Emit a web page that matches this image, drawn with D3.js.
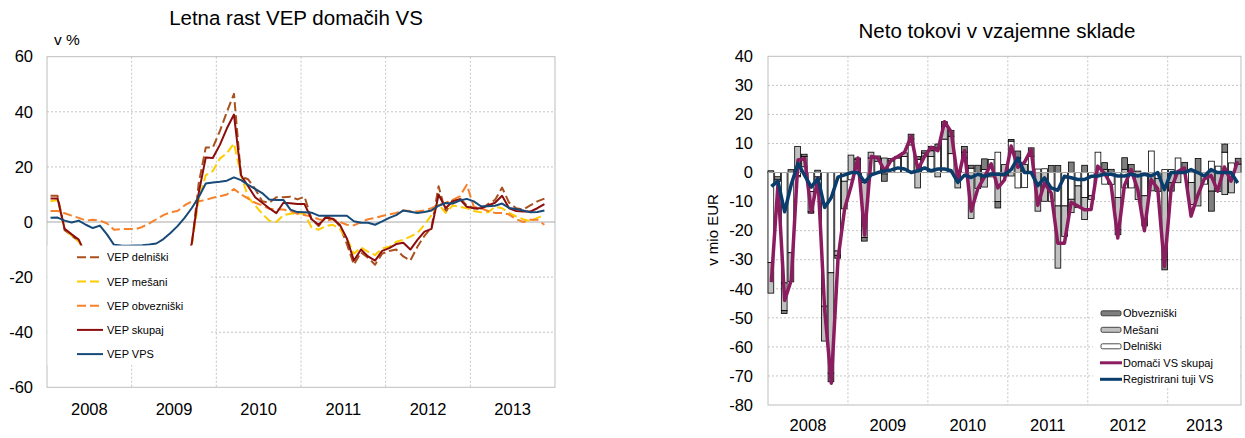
<!DOCTYPE html>
<html>
<head>
<meta charset="utf-8">
<script src="https://cdn.jsdelivr.net/npm/d3@7"></script>
<style>
body { margin: 0; background: #fff; }
svg { font-family: "Liberation Sans", Arial, sans-serif; }
</style>
</head>
<body>
<script>
// ---- data: categories ----
var years = ["2008", "2009", "2010", "2011", "2012", "2013"];
var monthsAll = [];
years.forEach(function (y) {
    for (var m = 1; m <= 12; m++) monthsAll.push(y + "-" + m);
});
// series run Jan 2008 - Nov 2013
var months = monthsAll.slice(0, 71);

// ---- left chart: annual growth of net asset value (v %) ----
var leftTicks = [60, 40, 20, 0, -20, -40, -60];
var vepDelniski = [9.5, 9.5, -3, -5, -7, -13, -22, -30, -38, -45,
    -50, -51, -51, -50, -48, -45, -40, -33, -25, -17,
    -9, 14, 27, 27, 33, 40, 46.5, 16.5, 15.5, 12,
    7.5, 7, 9, 9, 9.2, 8.2, 9.2, 1, -1.5, 2,
    1.5, -1.5, -8, -15.5, -11, -13, -15.5, -11.5, -10.5, -10,
    -12.5, -14, -9, -5, -2, 13, 3.5, 8, 8.7, 6,
    5, 4.5, 6.5, 8, 12.5, 7, 5, 4.5, 6, 7.5, 8.5];
var vepMesani = [7.5, 8, -2.5, -5, -7, -12, -18, -24, -30, -35,
    -38, -40, -40, -38, -36, -32, -28, -22, -16, -12,
    -8.5, 8, 17, 18.5, 23, 25, 28.5, 17, 9, 6,
    3, 0.5, 0, 2.5, 3, 3.2, 3, -2, -2.8, -1.5,
    -1, -2.5, -6, -11.5, -9.2, -10.8, -12, -9.6, -9, -7.2,
    -6.5, -5.3, -4, -1, 2.5, 6.5, 3.3, 6, 5.5, 5,
    4, 3.5, 3.5, 5.5, 5, 3.3, 2, 1, 0.2, 1.5, 2.4];
var vepObvezniski = [4, 4, 3.2, 2.3, 1.5, 0.5, 0.8, 0.5, -0.5, -2.8,
    -2.6, -2.5, -2.6, -1.8, -0.5, 1, 2.5, 3.5, 4, 6,
    7.5, 7.5, 8, 8.8, 9.3, 10, 12, 10, 8.5, 7,
    6, 4.8, 4.5, 4.5, 4, 3, 2.5, 2, 1, 0.5,
    1, 0, -1, -1.2, 0, 1, 1.5, 2.2, 2.8, 3.3,
    4.2, 4, 3.8, 4.2, 5, 6.2, 7, 8, 9.3, 13.5,
    5.5, 5, 4, 3.3, 3.3, 2.7, 1, 0, 0.8, 0.8, -1];
var vepSkupaj = [8.5, 8.5, -2.5, -4.5, -6.4, -12, -20, -28, -35, -42,
    -45, -47, -46, -45, -42, -38, -33, -27, -20, -14,
    -8, 10.5, 23.4, 23.2, 28, 34, 39, 17, 13, 9,
    7, 5, 3.2, 7, 6.8, 6.5, 6.5, 1, -1, 1.5,
    1.2, -1, -6, -14, -10, -12.5, -14, -10.5, -9.5, -8,
    -7.5, -10, -6.5, -3.5, -2.5, 10, 5, 7.5, 8.3, 5.5,
    5, 5, 6, 7, 9.5, 5, 4, 3.8, 3.8, 5, 6.5];
var vepVPS = [1.5, 1.6, 0.5, -0.2, 0.5, -1, -2.2, -1.3, -4.5, -8.3,
    -8.5, -8.6, -8.5, -8.4, -8.2, -7.8, -6.2, -4, -1.5, 1.5,
    5, 9, 14, 14.3, 14.6, 15, 16.2, 15.2, 13.5, 12,
    10.5, 8.2, 8, 8, 4.5, 3.6, 3.5, 3.4, 2.3, 2.3,
    2.3, 2.3, 2.3, 0.3, -0.3, -0.3, -1, 0.2, 1.5, 2.5,
    4.2, 3.7, 3.3, 3.6, 4.2, 5.9, 6.9, 6.7, 7.8, 8.4,
    7.5, 5.7, 5.7, 5.9, 6.7, 5.1, 4.7, 4.2, 3.5, 3.6, 4.2];

// ---- right chart: net flows (v mio EUR) ----
var rightTicks = [40, 30, 20, 10, 0, -10, -20, -30, -40, -50, -60, -70, -80];
var flowObv = [0.6, -0.8, -1, 1, -0.5, 0.8, -0.5, 0.8, 0, -3,
    -1, 0, 0, 0.5, -1.2, 0, 0.8, -2.5, 0, 0.6,
    0, 1.7, 1, 0.8, 1.5, 1.3, 1.7, 2, 0, 2,
    1, 2.5, 3.7, 0, -2.2, 0, 0.6, 2.4, 0, 2.9,
    0, 0, 2.4, 2.4, 0, 3.6, 0, 2.5, 0, 0,
    2.3, 1.1, -1.8, 4, 2.8, 0.5, 0, 0, 0, -3.5,
    -2.9, 0, 3, 0, 4.8, 0, -6.9, 0, 2.8, 0, 2];
var flowMes = [-10.5, -0.8, -9.5, -10, 9, 3.5, -7, -1, -12, -34.5,
    -1.5, -9.5, 6, 3, -19, 2, 1, 5, 0.8, 0,
    1.3, 2, -5.3, 1, 2, -1.5, 4.3, 6, -4.3, 2,
    -15.8, -4.5, -5, -1.5, -10, 2.8, -1.2, 5, 2.8, 0,
    -13.3, -9.9, 0, -21.4, -10.5, -4.6, -7.5, -7.6, -1.3, -1,
    1.1, 0, -11, 1.1, 0, -9.3, -10.4, -6.3, -4.5, -30,
    -3.5, -3.5, 0.5, -7.6, -11.5, 0, -6.4, -6.5, -7.6, -7, 2.9];
var flowDel = [-31, -1.5, -38, -27.6, -1, 2, -6.5, -1.5, -46, -34.5,
    -27, -3, -2.5, 1.5, -3.4, 5, 3.9, -0.5, 4, 5,
    5.5, 9.5, 4.5, 5.7, 5.5, 8.5, 11.5, 6.5, -1, 5,
    1.5, -1, 1, 4.5, 7, -1.2, 10.8, -5.3, -5.2, 5.6,
    1.2, 1.3, -9.9, -11.5, -11.5, -9.2, -4.6, -8.6, -8, 7,
    -4, -4.1, -8.6, -5.3, -5.3, 0, -8, 7.4, -2, 1,
    1, 5, 0, -3.4, 0, -4, 3.9, 2.2, 7, 3.3, 0];
var flowDomaci = [-37.7, -3.8, -44, -37, 4.3, 4.8, -13.6, -2, -47, -72.5,
    -30, -12.5, -4.5, 5, -21.5, 5.5, 5, 0.5, 4.3, 5.5,
    7, 12.5, 1, 5.5, 8.7, 7.5, 17.5, 14, -2.5, 7.5,
    -13.3, -5.5, -1.5, 3, -5.3, -2.5, 9.1, 1.8, 3.5, 7.9,
    -11.3, -3.6, -7, -24.3, -24.3, -10.2, -11.5, -12.8, -12.7, 2.2,
    -0.2, -4.2, -22.5, -4.5, 1, -5.8, -20, -2.4, -5.6, -32.3,
    -5.8, 0.3, 1.5, -15, -7.9, -2.2, -1, -6.4, 1.9, -3, 3.9];
var flowTuji = [-4.8, -3, -13.5, -4, 3.2, -1, -5, -2, -12, -8.6,
    -1.6, -0.8, 0, 0, -3.3, -0.8, 0, 0.5, 0.9, 1.6,
    1.2, 0, 0.6, 1.6, 0.6, 1.2, 1.2, 0.6, -3.4, -0.9,
    -1.7, -0.6, -1.3, -0.5, -0.6, -0.7, 1, 5, 0, 0,
    -4.5, -1.8, -5.3, -6.1, -1.3, -1.8, -2.4, -2.4, -1.3, -1.2,
    -0.6, -0.6, -1.2, -1.2, -0.6, -1.2, -0.6, -1.2, 0, -5.9,
    0, 0, 0, 1, 0, -1.2, 1, 0, 0, 0, -3.6];

var svg = d3.select("body")
    .append("svg")
    .attr("width", 1245)
    .attr("height", 438);

var gridColor = "#c4c4c4";

/* ================= left chart ================= */
var L = {left: 47, right: 555, top: 56.7, bottom: 387.3};
var xL = d3.scaleBand().domain(monthsAll).range([L.left, L.right]);
var yL = d3.scaleLinear().domain([-60, 60]).range([L.bottom, L.top]);

svg.append("text")
    .attr("x", 296).attr("y", 25)
    .attr("text-anchor", "middle")
    .style("font-size", "20.5px")
    .text("Letna rast VEP domačih VS");

svg.append("text")
    .attr("x", 54).attr("y", 45)
    .style("font-size", "15.5px")
    .text("v %");

var gL = svg.append("g");

gL.selectAll(".hgrid")
    .data([40, 20, -20, -40])
    .enter()
    .append("line")
    .attr("x1", L.left).attr("x2", L.right)
    .attr("y1", function (d) { return yL(d); })
    .attr("y2", function (d) { return yL(d); })
    .attr("stroke", gridColor)
    .attr("stroke-dasharray", "2,2");

gL.selectAll(".vgrid")
    .data(years.slice(1))
    .enter()
    .append("line")
    .attr("x1", function (d) { return xL(d + "-1"); })
    .attr("x2", function (d) { return xL(d + "-1"); })
    .attr("y1", L.top).attr("y2", L.bottom)
    .attr("stroke", gridColor)
    .attr("stroke-dasharray", "2,2");

gL.append("rect")
    .attr("x", L.left).attr("y", L.top)
    .attr("width", L.right - L.left).attr("height", L.bottom - L.top)
    .attr("fill", "none")
    .attr("stroke", "#bdbdbd");

gL.append("line")
    .attr("x1", L.left).attr("x2", L.right)
    .attr("y1", yL(0)).attr("y2", yL(0))
    .attr("stroke", "#a8a8a8");

// y tick labels
gL.append("g")
    .attr("transform", "translate(33,0)")
    .call(d3.axisLeft(yL).tickValues(leftTicks).tickSize(0).tickPadding(0)
        .tickFormat(function (d) { return String(d); }))
    .call(function (g) { g.select(".domain").remove(); })
    .selectAll("text")
    .attr("fill", "#000")
    .style("font-size", "16.5px")
    .style("font-family", "'Liberation Sans', Arial, sans-serif");

// year labels
gL.selectAll(".year")
    .data(years)
    .enter()
    .append("text")
    .attr("x", function (d) { return xL(d + "-1") + xL.bandwidth() * 6; })
    .attr("y", 415)
    .attr("text-anchor", "middle")
    .style("font-size", "16.5px")
    .text(function (d) { return d; });

var leftSeries = [
    {name: "VEP delniški", values: vepDelniski, color: "#a9501f", dash: "9,4"},
    {name: "VEP mešani", values: vepMesani, color: "#ffcc00", dash: "9,4"},
    {name: "VEP obvezniški", values: vepObvezniski, color: "#f7812b", dash: "9,4"},
    {name: "VEP skupaj", values: vepSkupaj, color: "#8b0d0d", dash: null},
    {name: "VEP VPS", values: vepVPS, color: "#174a79", dash: null}
];

var lineL = d3.line()
    .x(function (d, i) { return xL(monthsAll[i]) + xL.bandwidth() / 2; })
    .y(function (d) { return yL(d); });

gL.selectAll(".series")
    .data(leftSeries)
    .enter()
    .append("path")
    .attr("d", function (d) { return lineL(d.values); })
    .attr("fill", "none")
    .attr("stroke", function (d) { return d.color; })
    .attr("stroke-width", 2)
    .attr("stroke-linejoin", "round")
    .attr("stroke-dasharray", function (d) { return d.dash; });

// legend sits on a white box over the plot
gL.append("rect")
    .attr("x", L.left + 0.5).attr("y", 245.5)
    .attr("width", 162).attr("height", 119.5)
    .attr("fill", "#fff");

var legL = gL.selectAll(".legL")
    .data(leftSeries)
    .enter()
    .append("g")
    .attr("transform", function (d, i) { return "translate(0," + (257.3 + i * 24.2) + ")"; });

legL.append("line")
    .attr("x1", 77).attr("x2", 103)
    .attr("stroke", function (d) { return d.color; })
    .attr("stroke-width", 2)
    .attr("stroke-dasharray", function (d) { return d.dash; });

legL.append("text")
    .attr("x", 107).attr("y", 4)
    .style("font-size", "11px")
    .text(function (d) { return d.name; });

/* ================= right chart ================= */
var R = {left: 768, right: 1241, top: 56.3, bottom: 405};
var xR = d3.scaleBand().domain(months).range([R.left, R.right]).paddingInner(0.14);
var yR = d3.scaleLinear().domain([-80, 40]).range([R.bottom, R.top]);
var step = (R.right - R.left) / months.length;

svg.append("text")
    .attr("x", 997).attr("y", 38)
    .attr("text-anchor", "middle")
    .style("font-size", "20.5px")
    .text("Neto tokovi v vzajemne sklade");

svg.append("text")
    .attr("transform", "translate(718,230) rotate(-90)")
    .attr("text-anchor", "middle")
    .style("font-size", "15px")
    .text("v mio EUR");

var gR = svg.append("g");

gR.selectAll(".hgrid")
    .data(rightTicks.filter(function (d) { return d !== 0 && d !== 40 && d !== -80; }))
    .enter()
    .append("line")
    .attr("x1", R.left).attr("x2", R.right)
    .attr("y1", function (d) { return yR(d); })
    .attr("y2", function (d) { return yR(d); })
    .attr("stroke", gridColor)
    .attr("stroke-dasharray", "2,2");

gR.selectAll(".vgrid")
    .data(years.slice(1))
    .enter()
    .append("line")
    .attr("x1", function (d) { return R.left + months.indexOf(d + "-1") * step; })
    .attr("x2", function (d) { return R.left + months.indexOf(d + "-1") * step; })
    .attr("y1", R.top).attr("y2", R.bottom)
    .attr("stroke", gridColor)
    .attr("stroke-dasharray", "2,2");

gR.append("rect")
    .attr("x", R.left).attr("y", R.top)
    .attr("width", R.right - R.left).attr("height", R.bottom - R.top)
    .attr("fill", "none")
    .attr("stroke", "#bdbdbd");

gR.append("g")
    .attr("transform", "translate(753,0)")
    .call(d3.axisLeft(yR).tickValues(rightTicks).tickSize(0).tickPadding(0)
        .tickFormat(function (d) { return String(d); }))
    .call(function (g) { g.select(".domain").remove(); })
    .selectAll("text")
    .attr("fill", "#000")
    .style("font-size", "16.5px")
    .style("font-family", "'Liberation Sans', Arial, sans-serif");

gR.selectAll(".year")
    .data(years)
    .enter()
    .append("text")
    .attr("x", function (d) {
        var ms = months.filter(function (m) { return m.indexOf(d) === 0; });
        return R.left + (months.indexOf(ms[0]) + ms.length / 2) * step;
    })
    .attr("y", 431)
    .attr("text-anchor", "middle")
    .style("font-size", "16.5px")
    .text(function (d) { return d; });

// stacked columns: Delniški next to the axis, then Mešani, then Obvezniški
var flowRows = months.map(function (m, i) {
    return {month: m, del: flowDel[i], mes: flowMes[i], obv: flowObv[i]};
});
var fills = {obv: "#7f7f7f", mes: "#c0c0c0", del: "#ffffff"};
var stacked = d3.stack()
    .keys(["del", "mes", "obv"])
    .offset(d3.stackOffsetDiverging)(flowRows);

gR.selectAll(".layer")
    .data(stacked)
    .enter()
    .append("g")
    .attr("fill", function (d) { return fills[d.key]; })
    .selectAll("rect")
    .data(function (d) { return d.filter(function (s) { return s[0] !== s[1]; }); })
    .enter()
    .append("rect")
    .attr("x", function (d) { return xR(d.data.month); })
    .attr("width", xR.bandwidth())
    .attr("y", function (d) { return yR(Math.max(d[0], d[1])); })
    .attr("height", function (d) { return Math.abs(yR(d[0]) - yR(d[1])); })
    .attr("stroke", "#000")
    .attr("stroke-width", 0.8);

gR.append("line")
    .attr("x1", R.left).attr("x2", R.right)
    .attr("y1", yR(0)).attr("y2", yR(0))
    .attr("stroke", "#a8a8a8");

var lineR = d3.line()
    .x(function (d, i) { return R.left + (i + 0.5) * step; })
    .y(function (d) { return yR(d); });

var rightLines = [
    {name: "Domači VS skupaj", values: flowDomaci, color: "#8c1c60"},
    {name: "Registrirani tuji VS", values: flowTuji, color: "#0a3d6b"}
];

gR.selectAll(".flowLine")
    .data(rightLines)
    .enter()
    .append("path")
    .attr("d", function (d) { return lineR(d.values); })
    .attr("fill", "none")
    .attr("stroke", function (d) { return d.color; })
    .attr("stroke-width", 3.5)
    .attr("stroke-linejoin", "round");

// legend box
gR.append("rect")
    .attr("x", 1093).attr("y", 298)
    .attr("width", 147).attr("height", 90)
    .attr("fill", "#fff");

var legendR = [
    {name: "Obvezniški", fill: fills.obv},
    {name: "Mešani", fill: fills.mes},
    {name: "Delniški", fill: fills.del},
    {name: "Domači VS skupaj", line: rightLines[0].color},
    {name: "Registrirani tuji VS", line: rightLines[1].color}
];

var legR = gR.selectAll(".legR")
    .data(legendR)
    .enter()
    .append("g")
    .attr("transform", function (d, i) { return "translate(0," + (313.3 + i * 16.5) + ")"; });

legR.filter(function (d) { return d.fill; })
    .append("rect")
    .attr("x", 1101).attr("y", -2.5)
    .attr("width", 20).attr("height", 5)
    .attr("rx", 1.5)
    .attr("fill", function (d) { return d.fill; })
    .attr("stroke", "#222")
    .attr("stroke-width", 0.8);

legR.filter(function (d) { return d.line; })
    .append("line")
    .attr("x1", 1100).attr("x2", 1122)
    .attr("stroke", function (d) { return d.line; })
    .attr("stroke-width", 3);

legR.append("text")
    .attr("x", 1123).attr("y", 4)
    .style("font-size", "11px")
    .text(function (d) { return d.name; });
</script>
</body>
</html>
